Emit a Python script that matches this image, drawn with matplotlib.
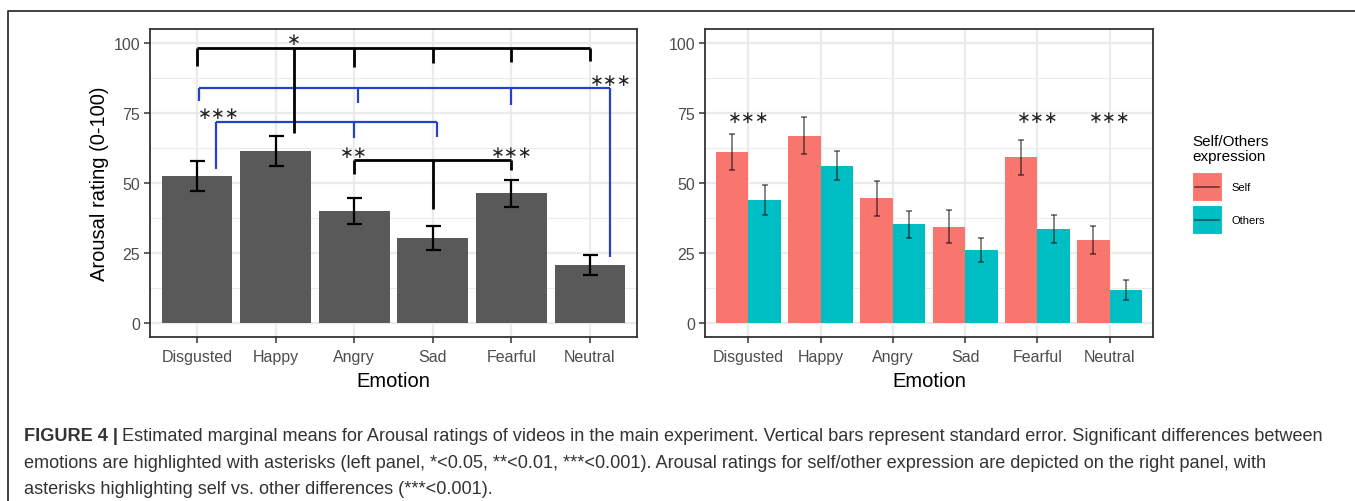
import matplotlib
matplotlib.use('Agg')
import matplotlib.pyplot as plt
import numpy as np
from matplotlib.patches import Rectangle
from matplotlib.lines import Line2D

plt.rcParams['font.family'] = ['Liberation Sans', 'DejaVu Sans']

# ---------------- data ----------------
emotions = ['Disgusted', 'Happy', 'Angry', 'Sad', 'Fearful', 'Neutral']
overall_mean = [52.6, 61.5, 39.9, 30.4, 46.3, 20.8]
overall_se = [5.3, 5.4, 4.7, 4.2, 4.9, 3.5]
self_mean = [61.1, 66.9, 44.5, 34.4, 59.2, 29.6]
self_se = [6.5, 6.7, 6.2, 5.9, 6.3, 5.1]
others_mean = [43.9, 56.2, 35.2, 26.2, 33.5, 11.8]
others_se = [5.3, 5.3, 4.8, 4.3, 4.9, 3.6]
yticks = [0, 25, 50, 75, 100]
groups = ['Self', 'Others']

# significance brackets on left panel: stem (x, bottom), bar height, ticks (x, bottom)
brackets = [
    dict(stem=(5.25, 23.5), y=83.9, ticks=[(0.02, 79.4), (2.05, 78.7), (4.0, 78.0)], color='#2443C8'),
    dict(stem=(0.24, 55.0), y=71.9, ticks=[(2.0, 66.0), (3.06, 66.3)], color='#2443C8'),
    dict(stem=(1.23, 67.7), y=98.1, ticks=[(0, 91.7), (2, 91.3), (3, 92.9), (4, 93.1), (5, 93.7)], color='black'),
    dict(stem=(3.0, 40.7), y=58.2, ticks=[(2.0, 53.2), (4.0, 54.8)], color='black'),
]
left_stars = [(1.23, 101.3, '∗'), (5.27, 86.8, '∗∗∗'), (0.27, 74.9, '∗∗∗'),
              (2.0, 61.2, '∗∗'), (4.0, 61.2, '∗∗∗')]
right_stars = [(0, 73.5, '∗∗∗'), (4, 73.5, '∗∗∗'), (5, 73.5, '∗∗∗')]

# ---------------- figure ----------------
W, H = 1355, 502
fig = plt.figure(figsize=(W / 100, H / 100), dpi=100)

def px_axes(x0, y0, x1, y1):
    return fig.add_axes([x0 / W, 1 - y1 / H, (x1 - x0) / W, (y1 - y0) / H])

axL = px_axes(150, 30, 637, 338)
axR = px_axes(705, 30, 1153, 338)

grey20 = '#333333'
tick_col = '#4D4D4D'
grid_col = '#EBEBEB'
x = np.arange(len(emotions))

def style(ax):
    ax.set_xlim(-0.6, len(emotions) - 0.4)
    ax.set_ylim(-5, 105)
    ax.set_yticks(yticks)
    ax.set_yticks([12.5, 37.5, 62.5, 87.5], minor=True)
    ax.set_xticks(x)
    ax.set_xticklabels(emotions)
    ax.tick_params(axis='both', which='major', colors=grey20, labelcolor=tick_col,
                   labelsize=11.5, length=4, width=1.1, pad=3)
    ax.tick_params(axis='x', which='major', pad=5)
    ax.tick_params(axis='y', which='minor', length=0)
    ax.grid(True, which='major', color=grid_col, lw=1.6, zorder=0)
    ax.grid(True, which='minor', axis='y', color=grid_col, lw=0.8, zorder=0)
    ax.set_axisbelow(True)
    for s in ax.spines.values():
        s.set_color(grey20)
        s.set_linewidth(1.3)
    ax.set_xlabel('Emotion', fontsize=14.5, color='black', labelpad=5)

style(axL)
style(axR)

# left panel
axL.bar(x, overall_mean, width=0.9, color='#595959', zorder=2)
axL.errorbar(x, overall_mean, yerr=overall_se, fmt='none', ecolor='black',
             elinewidth=1.6, capsize=5.4, capthick=1.6, zorder=3)
axL.set_ylabel('Arousal rating (0-100)', fontsize=14.5, color='black', labelpad=3)

for b in brackets:
    xs = [b['stem'][0]] + [t[0] for t in b['ticks']]
    lw = 2.0 if b['color'] == 'black' else 1.6
    z = 5 if b['color'] == 'black' else 4
    axL.plot([min(xs), max(xs)], [b['y'], b['y']], color=b['color'], lw=lw, zorder=z,
             solid_capstyle='butt')
    axL.plot([b['stem'][0]] * 2, [b['y'], b['stem'][1]], color=b['color'], lw=lw, zorder=z,
             solid_capstyle='butt')
    for tx, tb in b['ticks']:
        axL.plot([tx, tx], [b['y'], tb], color=b['color'], lw=lw, zorder=z,
                 solid_capstyle='butt')

for sx, sy, st in left_stars:
    axL.text(sx, sy, st, ha='center', va='center', fontsize=12,
             family='DejaVu Sans', color='#222222', zorder=6, clip_on=False)

# right panel
colors = ['#F8766D', '#00BFC4']
for i, (m, se) in enumerate([(self_mean, self_se), (others_mean, others_se)]):
    xo = x + (i - 0.5) * 0.45
    axR.bar(xo, m, width=0.45, color=colors[i], zorder=2, label=groups[i])
    axR.errorbar(xo, m, yerr=se, fmt='none', ecolor=(0, 0, 0, 0.6),
                 elinewidth=1.1, capsize=2.2, capthick=1.1, zorder=3)
for sx, sy, st in right_stars:
    axR.text(sx, sy, st, ha='center', va='center', fontsize=12,
             family='DejaVu Sans', color='#222222', zorder=6)

# legend (drawn manually, ggplot-like)
fig.text(1192 / W, 1 - 135 / H, 'Self/Others\nexpression', ha='left', va='top',
         fontsize=11, color='black', linespacing=1.05)
for k, (lab, col) in enumerate(zip(groups, colors)):
    ytop = 173 + k * 33
    r = Rectangle((1192 / W, 1 - (ytop + 29) / H), 30 / W, 29 / H, transform=fig.transFigure,
                  facecolor=col, edgecolor='white', lw=0.8)
    fig.add_artist(r)
    fig.add_artist(Line2D([1195 / W, 1219 / W], [1 - (ytop + 14.5) / H] * 2,
                          transform=fig.transFigure, color=(0, 0, 0, 0.6), lw=1.1))
    fig.text(1231 / W, 1 - (ytop + 15) / H, lab, ha='left', va='center',
             fontsize=8, color='black')

# outer frame lines
fig.add_artist(Line2D([8 / W, 8 / W, 1.0], [0.0, 1 - 12 / H, 1 - 12 / H],
                      transform=fig.transFigure, color='#333333', lw=1.3))

# caption
cap_col = '#333333'
fs = 13.1
lines_y = [437, 464, 490]
fig.canvas.draw()
rend = fig.canvas.get_renderer()
t0 = fig.text(24 / W, 1 - lines_y[0] / H, 'FIGURE 4 |', ha='left', va='center',
              fontsize=fs, fontweight='bold', color=cap_col)
bb = t0.get_window_extent(renderer=rend)
fig.text((bb.x1 + 4) / W, 1 - lines_y[0] / H,
         'Estimated marginal means for Arousal ratings of videos in the main experiment. '
         'Vertical bars represent standard error. Significant differences between',
         ha='left', va='center', fontsize=fs, color=cap_col)
fig.text(24 / W, 1 - lines_y[1] / H,
         'emotions are highlighted with asterisks (left panel, *<0.05, **<0.01, ***<0.001). '
         'Arousal ratings for self/other expression are depicted on the right panel, with',
         ha='left', va='center', fontsize=fs, color=cap_col)
fig.text(24 / W, 1 - lines_y[2] / H,
         'asterisks highlighting self vs. other differences (***<0.001).',
         ha='left', va='center', fontsize=fs, color=cap_col)

fig.savefig('out.png', dpi=100)
